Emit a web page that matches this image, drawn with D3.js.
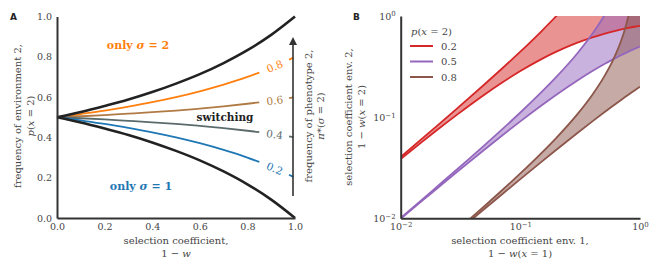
<!DOCTYPE html>
<html>
<head>
<meta charset="utf-8">
<script src="https://cdn.jsdelivr.net/npm/d3@7"></script>
<style>
  body { margin: 0; background: #fff; }
  text { font-family: "DejaVu Serif", serif; }
</style>
</head>
<body>
<svg width="660" height="270"></svg>
<script>
// ---- Panel A data: selection coefficient 1 - w vs p(x = 2) ----
var sGrid = [0, 0.1, 0.2, 0.3, 0.4, 0.5, 0.6, 0.7, 0.8, 0.9, 1.0];
var upperBound = [0.5, 0.526, 0.556, 0.588, 0.625, 0.667, 0.714, 0.769, 0.833, 0.909, 1.0];
var lowerBound = [0.5, 0.474, 0.444, 0.412, 0.375, 0.333, 0.286, 0.231, 0.167, 0.091, 0.0];

// contour lines of pi*(sigma = 2)
var contourS = [0, 0.1, 0.2, 0.3, 0.4, 0.5, 0.6, 0.7, 0.8, 0.85];
var contour08 = [0.5, 0.516, 0.533, 0.553, 0.575, 0.600, 0.629, 0.662, 0.700, 0.722];
var contour06 = [0.5, 0.505, 0.511, 0.518, 0.525, 0.533, 0.543, 0.554, 0.567, 0.574];
var contour04 = [0.5, 0.495, 0.489, 0.482, 0.475, 0.467, 0.457, 0.446, 0.433, 0.426];
var contour02 = [0.5, 0.484, 0.467, 0.447, 0.425, 0.400, 0.371, 0.338, 0.300, 0.278];
var tailS = [0.975, 0.993];
var tail08 = [0.785, 0.796];
var tail06 = [0.595, 0.599];
var tail04 = [0.405, 0.401];
var tail02 = [0.215, 0.204];
var contourLabels = ["0.8", "0.6", "0.4", "0.2"];
var contourColors = ["#ff7f0e", "#b07a45", "#5b6b6b", "#1f77b4"];
var xTicksA = [0, 0.2, 0.4, 0.6, 0.8, 1.0];
var yTicksA = [0, 0.2, 0.4, 0.6, 0.8, 1.0];

// ---- Panel B data: s1 = 1 - w(x=1) vs s2 = 1 - w(x=2) ----
var pLabels = ["0.2", "0.5", "0.8"];
var bandColors = ["#d62728", "#9467bd", "#8c564b"];
var s1Red = [0.01, 0.015, 0.02, 0.03, 0.05, 0.07, 0.1, 0.15, 0.2, 0.3, 0.4, 0.5, 0.6, 0.7, 0.8, 0.9, 1.0];
var redUpper = [0.0404, 0.0609, 0.0816, 0.1237, 0.2105, 0.301, 0.444, 0.706, 1.0, 1.714, 2.667, 4, 6, 9.33, 16, 36, 100];
var redLower = [0.0385, 0.0566, 0.0741, 0.1071, 0.1667, 0.2188, 0.2857, 0.375, 0.444, 0.545, 0.615, 0.667, 0.706, 0.737, 0.762, 0.783, 0.8];
var s1Purple = [0.01, 0.015, 0.02, 0.03, 0.05, 0.07, 0.1, 0.15, 0.2, 0.3, 0.4, 0.5, 0.6, 0.7, 0.8, 0.9, 1.0];
var purpleUpper = [0.0101, 0.0152, 0.0204, 0.0309, 0.0526, 0.0753, 0.1111, 0.1765, 0.25, 0.4286, 0.6667, 1.0, 1.5, 2.33, 4, 9, 100];
var purpleLower = [0.0099, 0.0148, 0.0196, 0.0291, 0.0476, 0.0654, 0.0909, 0.1304, 0.1667, 0.2308, 0.2857, 0.3333, 0.375, 0.4118, 0.4444, 0.4737, 0.5];
var s1Brown = [0.03, 0.05, 0.07, 0.1, 0.15, 0.2, 0.3, 0.4, 0.5, 0.6, 0.7, 0.75, 0.8, 0.85, 0.9, 1.0];
var brownUpper = [0.00773, 0.01316, 0.01882, 0.02778, 0.04412, 0.0625, 0.1071, 0.1667, 0.25, 0.375, 0.5833, 0.75, 1.0, 1.417, 2.25, 100];
var brownLower = [0.00744, 0.01235, 0.0172, 0.02439, 0.03614, 0.04762, 0.06977, 0.09091, 0.1111, 0.1304, 0.1489, 0.1579, 0.1667, 0.1753, 0.1837, 0.2];
var logTicks = [0.01, 0.1, 1];
var logTickExp = ["\u22122", "\u22121", "0"];

var svg = d3.select("svg");
var axisColor = "#333";
var textColor = "#444";

// =============== PANEL A ===============
var xA = d3.scaleLinear().domain([0, 1]).range([57, 295]);
var yA = d3.scaleLinear().domain([0, 1]).range([218, 16.5]);

var lineA = d3.line()
  .x(function(d) { return xA(d[0]); })
  .y(function(d) { return yA(d[1]); })
  .curve(d3.curveMonotoneX);

function zipAB(a, b) { return a.map(function(v, i) { return [v, b[i]]; }); }

var gA = svg.append("g");

var contours = [contour08, contour06, contour04, contour02];
var tails = [tail08, tail06, tail04, tail02];
contours.forEach(function(c, i) {
  gA.append("path")
    .attr("d", lineA(zipAB(contourS, c)))
    .attr("fill", "none")
    .attr("stroke", contourColors[i])
    .attr("stroke-width", 1.8);
  gA.append("path")
    .attr("d", lineA(zipAB(tailS, tails[i])))
    .attr("fill", "none")
    .attr("stroke", contourColors[i])
    .attr("stroke-width", 1.8);
  // label between the line end and the tail, rotated along the line
  var x0 = xA(contourS[contourS.length - 1]), y0 = yA(c[c.length - 1]);
  var x1 = xA(tailS[0]), y1 = yA(tails[i][0]);
  var ang = Math.atan2(y1 - y0, x1 - x0) * 180 / Math.PI;
  gA.append("text")
    .attr("transform", "translate(" + ((x0 + x1) / 2 + 0.5) + "," + ((y0 + y1) / 2) + ") rotate(" + ang + ")")
    .attr("text-anchor", "middle")
    .attr("dominant-baseline", "central")
    .attr("font-size", 10.5)
    .attr("fill", contourColors[i])
    .text(contourLabels[i]);
});

[upperBound, lowerBound].forEach(function(b) {
  gA.append("path")
    .attr("d", lineA(zipAB(sGrid, b)))
    .attr("fill", "none")
    .attr("stroke", "#222")
    .attr("stroke-width", 2.6);
});

// axes
var xAxisA = d3.axisBottom(xA).tickValues(xTicksA).tickFormat(d3.format(".1f")).tickSize(0).tickPadding(5);
var yAxisA = d3.axisLeft(yA).tickValues(yTicksA).tickFormat(d3.format(".1f")).tickSize(0).tickPadding(5);
gA.append("g").attr("transform", "translate(0,218)").call(xAxisA);
gA.append("g").attr("transform", "translate(57,0)").call(yAxisA);

// arrow axis for pi*
gA.append("line")
  .attr("x1", 293).attr("x2", 293).attr("y1", 196).attr("y2", 44)
  .attr("stroke", axisColor).attr("stroke-width", 1.6);
gA.append("path")
  .attr("d", "M293,37 L289,45 L297,45 Z")
  .attr("fill", axisColor);

// region labels
gA.append("text").attr("x", 138).attr("y", 45).attr("text-anchor", "middle").attr("dominant-baseline", "central")
  .attr("font-size", 11).attr("font-weight", "bold").attr("fill", "#ff7f0e")
  .html('only <tspan font-style="italic">σ</tspan> = 2');
gA.append("text").attr("x", 141).attr("y", 186).attr("text-anchor", "middle").attr("dominant-baseline", "central")
  .attr("font-size", 11).attr("font-weight", "bold").attr("fill", "#1f77b4")
  .html('only <tspan font-style="italic">σ</tspan> = 1');
gA.append("text").attr("x", 225).attr("y", 117).attr("text-anchor", "middle").attr("dominant-baseline", "central")
  .attr("font-size", 10.5).attr("font-weight", "bold").attr("fill", "#222")
  .text("switching");

// axis titles
gA.append("text").attr("x", 176).attr("y", 240).attr("text-anchor", "middle").attr("dominant-baseline", "central")
  .attr("font-size", 10).attr("fill", textColor).text("selection coefficient,");
gA.append("text").attr("x", 176).attr("y", 253).attr("text-anchor", "middle").attr("dominant-baseline", "central")
  .attr("font-size", 10).attr("fill", textColor).html('1 − <tspan font-style="italic">w</tspan>');
gA.append("text").attr("transform", "translate(17,116) rotate(-90)").attr("text-anchor", "middle").attr("dominant-baseline", "central")
  .attr("font-size", 10).attr("fill", textColor).text("frequency of environment 2,");
gA.append("text").attr("transform", "translate(30,116) rotate(-90)").attr("text-anchor", "middle").attr("dominant-baseline", "central")
  .attr("font-size", 10).attr("fill", textColor).html('<tspan font-style="italic">p</tspan>(<tspan font-style="italic">x</tspan> = 2)');
gA.append("text").attr("transform", "translate(308,116) rotate(-90)").attr("text-anchor", "middle").attr("dominant-baseline", "central")
  .attr("font-size", 10).attr("fill", textColor).text("frequency of phenotype 2,");
gA.append("text").attr("transform", "translate(320,116) rotate(-90)").attr("text-anchor", "middle").attr("dominant-baseline", "central")
  .attr("font-size", 10).attr("fill", textColor).html('<tspan font-style="italic">π</tspan>*(<tspan font-style="italic">σ</tspan> = 2)');

svg.append("text").attr("x", 10).attr("y", 20)
  .attr("font-size", 9).attr("font-weight", "bold").attr("fill", "#222").style("font-family", "DejaVu Sans").text("A");

// =============== PANEL B ===============
var xB = d3.scaleLog().domain([0.01, 1]).range([400.7, 640]);
var yB = d3.scaleLog().domain([0.01, 1]).range([218.3, 16]);

var gB = svg.append("g");
svg.append("clipPath").attr("id", "clipB")
  .append("rect").attr("x", 400.7).attr("y", 16).attr("width", 640 - 400.7).attr("height", 218.3 - 16);

var lineB = d3.line()
  .x(function(d) { return xB(d[0]); })
  .y(function(d) { return yB(d[1]); })
  .curve(d3.curveMonotoneX);

var plotB = gB.append("g").attr("clip-path", "url(#clipB)");
var bands = [
  [s1Red, redUpper, redLower],
  [s1Purple, purpleUpper, purpleLower],
  [s1Brown, brownUpper, brownLower]
];
bands.forEach(function(b, i) {
  var area = d3.area()
    .x(function(d) { return xB(d[0]); })
    .y0(function(d) { return yB(d[1]); })
    .y1(function(d) { return yB(d[2]); })
    .curve(d3.curveMonotoneX);
  plotB.append("path")
    .attr("d", area(b[0].map(function(s, k) { return [s, b[1][k], b[2][k]]; })))
    .attr("fill", bandColors[i])
    .attr("fill-opacity", 0.5)
    .attr("stroke", "none");
});
bands.forEach(function(b, i) {
  [b[1], b[2]].forEach(function(v) {
    plotB.append("path")
      .attr("d", lineB(zipAB(b[0], v)))
      .attr("fill", "none")
      .attr("stroke", bandColors[i])
      .attr("stroke-width", 1.8);
  });
});

function logFmt(d, i) { return "10"; }
var xAxisB = d3.axisBottom(xB).tickValues(logTicks).tickSize(0).tickPadding(5).tickFormat(logFmt);
var yAxisB = d3.axisLeft(yB).tickValues(logTicks).tickSize(0).tickPadding(5).tickFormat(logFmt);
var gxB = gB.append("g").attr("transform", "translate(0,218.3)").call(xAxisB);
var gyB = gB.append("g").attr("transform", "translate(400.7,0)").call(yAxisB);
[gxB, gyB].forEach(function(g) {
  g.selectAll(".tick text").each(function(d, i) {
    d3.select(this).append("tspan").attr("dy", "-0.45em").attr("font-size", 7).text(logTickExp[i]);
  });
});

// legend
var leg = gB.append("g");
leg.append("text").attr("x", 411).attr("y", 31).attr("dominant-baseline", "central")
  .attr("font-size", 10).attr("fill", textColor)
  .html('<tspan font-style="italic">p</tspan>(<tspan font-style="italic">x</tspan> = 2)');
pLabels.forEach(function(l, i) {
  var y = 46 + i * 15.5;
  leg.append("line").attr("x1", 410).attr("x2", 433).attr("y1", y).attr("y2", y)
    .attr("stroke", bandColors[i]).attr("stroke-width", 2);
  leg.append("text").attr("x", 441).attr("y", y).attr("dominant-baseline", "central")
    .attr("font-size", 10).attr("fill", textColor).text(l);
});

gB.append("text").attr("x", 520).attr("y", 240).attr("text-anchor", "middle").attr("dominant-baseline", "central")
  .attr("font-size", 10).attr("fill", textColor).text("selection coefficient env. 1,");
gB.append("text").attr("x", 520).attr("y", 253).attr("text-anchor", "middle").attr("dominant-baseline", "central")
  .attr("font-size", 10).attr("fill", textColor)
  .html('1 − <tspan font-style="italic">w</tspan>(<tspan font-style="italic">x</tspan> = 1)');
gB.append("text").attr("transform", "translate(348,117) rotate(-90)").attr("text-anchor", "middle").attr("dominant-baseline", "central")
  .attr("font-size", 10).attr("fill", textColor).text("selection coefficient env. 2,");
gB.append("text").attr("transform", "translate(361,117) rotate(-90)").attr("text-anchor", "middle").attr("dominant-baseline", "central")
  .attr("font-size", 10).attr("fill", textColor)
  .html('1 − <tspan font-style="italic">w</tspan>(<tspan font-style="italic">x</tspan> = 2)');

svg.append("text").attr("x", 353).attr("y", 20).style("font-family", "DejaVu Sans")
  .attr("font-size", 9).attr("font-weight", "bold").attr("fill", "#222").text("B");

// common axis styling
svg.selectAll(".domain").attr("stroke", axisColor).attr("stroke-width", 2);
svg.selectAll(".tick text").attr("fill", textColor).style("font-family", "DejaVu Serif").attr("font-size", 9.5);
</script>
</body>
</html>
